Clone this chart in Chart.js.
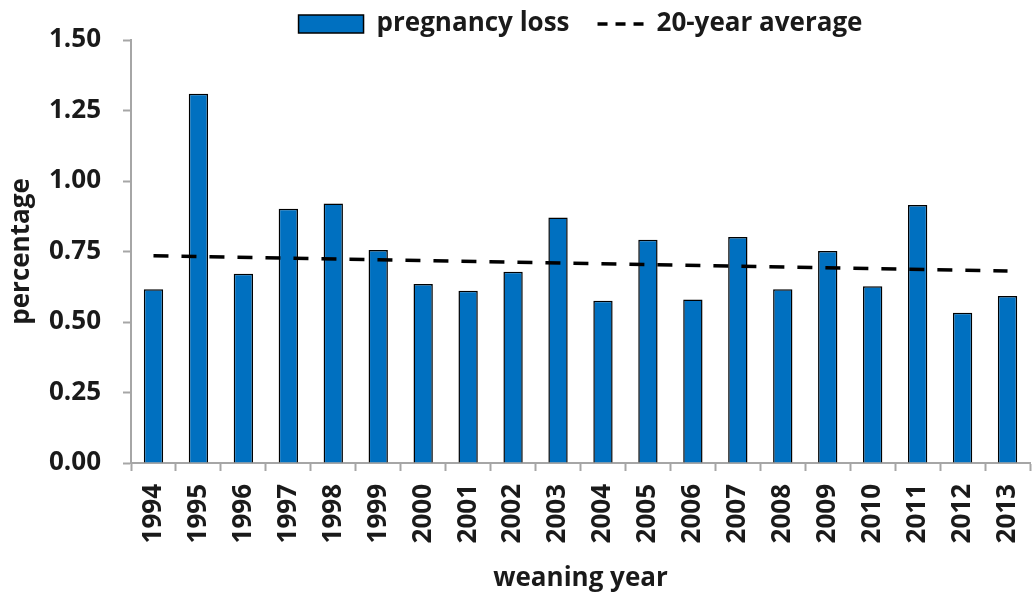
<!DOCTYPE html>
<html>
<head>
<meta charset="utf-8">
<script src="https://cdn.jsdelivr.net/npm/chart.js@4.4.1/dist/chart.umd.min.js"></script>
<style>
  body { margin: 0; background: #fff; }
  #wrap { width: 1034px; height: 595px; }
</style>
</head>
<body>
<div id="wrap"><canvas id="chart" width="1034" height="595"></canvas></div>
<script>
var years = ['1994','1995','1996','1997','1998','1999','2000','2001','2002','2003',
             '2004','2005','2006','2007','2008','2009','2010','2011','2012','2013'];
var pregnancyLoss = [0.616, 1.309, 0.671, 0.902, 0.920, 0.755, 0.635, 0.611, 0.678, 0.871,
                     0.575, 0.792, 0.580, 0.801, 0.616, 0.752, 0.627, 0.915, 0.533, 0.592];
// trend line: only the two ends are read, the rest is spanned
var average20 = [0.735, null, null, null, null, null, null, null, null, null,
                 null, null, null, null, null, null, null, null, null, 0.681];
var yTicks = [0, 0.25, 0.5, 0.75, 1.0, 1.25, 1.5];

var fontFamily = '"Open Sans", "DejaVu Sans", sans-serif';
var axisGray = '#a6a6a6';
var lineDash = [15, 13];

// squeeze the legend box so the plot starts right under it
var legendFit = {
  id: 'legendFit',
  beforeInit: function(chart) {
    var fit = chart.legend.fit;
    chart.legend.fit = function() {
      fit.call(this);
      this.height = 38;
    };
  }
};

var ctx = document.getElementById('chart');
var chart = new Chart(ctx, {
  data: {
    labels: years,
    datasets: [{
      type: 'bar',
      label: 'pregnancy loss',
      data: pregnancyLoss,
      backgroundColor: '#0070c0',
      borderColor: '#000',
      borderWidth: 1.5,
      barPercentage: 0.43,
      categoryPercentage: 1,
      order: 1
    }, {
      type: 'line',
      label: '20-year average',
      data: average20,
      spanGaps: true,
      borderColor: '#000',
      backgroundColor: '#000',
      borderWidth: 3.5,
      borderDash: lineDash,
      pointRadius: 0,
      fill: false,
      order: 0
    }]
  },
  plugins: [legendFit],
  options: {
    responsive: false,
    devicePixelRatio: 1,
    animation: false,
    layout: { padding: { left: 0, right: 4, top: 2, bottom: 0 } },
    plugins: {
      tooltip: { enabled: false },
      legend: {
        display: true,
        position: 'top',
        fullSize: false,
        labels: {
          usePointStyle: true,
          pointStyleWidth: 65,
          boxHeight: 18,
          padding: 9,
          color: '#1a1a1a',
          font: { family: fontFamily, size: 26, weight: 'bold' },
          sort: function(a, b) { return a.datasetIndex - b.datasetIndex; },
          generateLabels: function(chart) {
            var items = Chart.defaults.plugins.legend.labels.generateLabels(chart);
            items.forEach(function(it) {
              if (it.datasetIndex === 1) {
                // three dashes at the right end of the symbol, blank lead-in
                it.lineDash = [10, 8, 10, 8, 10, 27];
                it.lineDashOffset = 54;
                it.lineWidth = 3.5;
                it.pointStyle = 'line';
              } else {
                it.pointStyle = 'rect';
                it.lineWidth = 1.5;
              }
            });
            return items;
          }
        }
      }
    },
    scales: {
      x: {
        offset: true,
        afterFit: function(axis) {
          axis.height = 132;
          axis.paddingLeft = 0;
          axis.paddingRight = 0;
        },
        grid: { display: true, drawOnChartArea: false, offset: true, tickLength: 8, tickColor: axisGray, tickWidth: 2 },
        border: { display: true, color: axisGray, width: 2 },
        ticks: {
          minRotation: 90, maxRotation: 90, padding: 13,
          color: '#1a1a1a',
          font: { family: fontFamily, size: 26, weight: 'bold' }
        },
        title: {
          display: true, text: 'weaning year', color: '#1a1a1a', padding: { top: 0, bottom: 1 },
          font: { family: fontFamily, size: 26, weight: 'bold' }
        }
      },
      y: {
        min: 0, max: 1.5,
        afterBuildTicks: function(axis) {
          axis.ticks = yTicks.map(function(v) { return { value: v }; });
        },
        afterFit: function(axis) { axis.width = 131; },
        grid: { display: true, drawOnChartArea: false, tickLength: 8, tickColor: axisGray, tickWidth: 2 },
        border: { display: true, color: axisGray, width: 2 },
        ticks: {
          padding: 22,
          color: '#1a1a1a',
          font: { family: fontFamily, size: 26, weight: 'bold' },
          callback: function(v) { return Number(v).toFixed(2); }
        },
        title: {
          display: true, text: 'percentage', color: '#1a1a1a', padding: { top: 6, bottom: 0 },
          font: { family: fontFamily, size: 26, weight: 'bold' }
        }
      }
    }
  }
});
</script>
</body>
</html>
